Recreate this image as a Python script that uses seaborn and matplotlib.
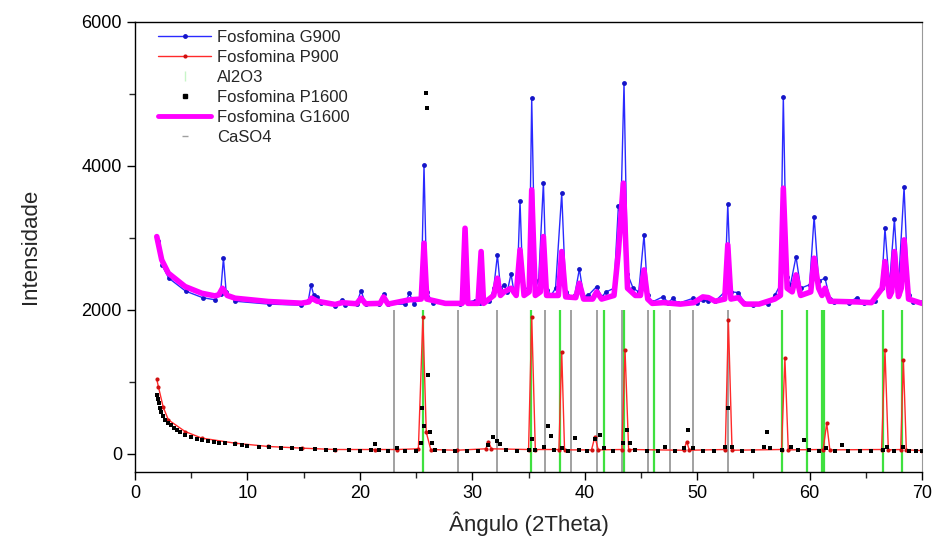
import matplotlib
matplotlib.use("Agg")
import matplotlib.pyplot as plt
from matplotlib.lines import Line2D
from matplotlib.ticker import MultipleLocator
import seaborn as sns
import pandas as pd

# readings (2theta, intensity)
g900_x = [2.0, 2.4, 3.0, 4.5, 6.0, 7.1, 7.6, 7.86, 8.1, 8.9, 11.9, 14.8, 15.4, 15.65, 15.9, 16.2, 16.5,
          17.8, 18.4, 18.7, 19.7, 20.1, 20.5, 21.7, 22.1, 22.5, 24.0, 24.4, 24.8, 25.45, 25.7, 25.95, 26.5,
          27.6, 28.9, 30.2, 30.7, 31.5, 31.9, 32.23, 32.5, 32.82, 33.1, 33.44, 33.7, 34.0, 34.24, 34.5,
          35.05, 35.28, 35.6, 35.9, 36.32, 36.6, 37.0, 37.4, 37.95, 38.3, 38.8, 39.1, 39.52, 39.9, 40.3,
          41.06, 41.5, 41.9, 42.6, 42.99, 43.2, 43.49, 43.8, 44.3, 44.8, 45.27, 45.6, 46.0, 46.99, 47.4,
          47.83, 48.3, 49.66, 50.0, 50.5, 51.0, 51.6, 52.45, 52.72, 53.0, 53.66, 54.2, 55.0, 56.3, 56.92,
          57.4, 57.66, 57.95, 58.3, 58.79, 59.2, 60.0, 60.4, 60.8, 61.37, 61.8, 62.2, 63.5, 64.19, 64.8,
          65.8, 66.4, 66.7, 67.1, 67.54, 67.9, 68.4, 68.8, 69.2, 70.0]
g900_y = [2950, 2620, 2440, 2260, 2170, 2140, 2220, 2718, 2250, 2120, 2080, 2065, 2120, 2347, 2200, 2185, 2100,
          2060, 2140, 2070, 2080, 2268, 2080, 2080, 2222, 2075, 2080, 2231, 2080, 2200, 4014, 2250, 2090,
          2100, 2080, 2130, 2100, 2120, 2300, 2764, 2300, 2347, 2250, 2500, 2250, 2400, 3518, 2300,
          2300, 4940, 2300, 2420, 3768, 2280, 2200, 2300, 3620, 2250, 2180, 2200, 2569, 2180, 2200,
          2324, 2180, 2250, 2300, 3444, 3300, 5148, 2500, 2300, 2250, 3042, 2200, 2110, 2185, 2100,
          2160, 2090, 2162, 2100, 2140, 2120, 2120, 2250, 3468, 2250, 2240, 2100, 2070, 2080, 2208,
          2350, 4963, 2450, 2350, 2740, 2300, 2350, 3296, 2400, 2440, 2150, 2110, 2100, 2171, 2100,
          2120, 2300, 3134, 2330, 3259, 2330, 3704, 2200, 2110, 2110]

p900_x = [1.93, 2.07, 2.5, 2.96, 4.45, 5.93, 8.9, 11.86, 14.83, 17.8, 21.3, 23.3, 25.2, 25.6, 25.9, 26.3,
          28.6, 31.2, 31.43, 31.7, 35.0, 35.28, 35.6, 37.7, 37.95, 38.2, 40.6, 40.9, 41.2, 43.3, 43.58,
          43.9, 48.8, 49.07, 49.3, 52.5, 52.77, 53.1, 57.5, 57.8, 58.1, 61.2, 61.52, 61.8, 66.4, 66.7,
          67.0, 68.1, 68.34, 68.6, 70.0]
p900_y = [1037, 935, 650, 472, 310, 218, 148, 102, 79, 60, 60, 60, 70, 1900, 300, 60,
          50, 70, 171, 70, 60, 1907, 60, 60, 1421, 55, 55, 240, 55, 60, 1444,
          60, 50, 171, 50, 60, 1861, 50, 60, 1330, 55, 60, 426, 55, 60, 1444,
          55, 60, 1305, 55, 45]

p1600_x = [1.93, 2.0, 2.1, 2.22, 2.35, 2.5, 2.7, 2.96, 3.2, 3.5, 3.75, 4.0, 4.45, 5.0, 5.5, 5.93, 6.5,
           7.0, 7.5, 8.0, 8.9, 9.5, 10.0, 11.0, 11.9, 13.0, 14.0, 14.8, 16.0, 17.0, 17.8, 19.0, 20.0,
           21.0, 21.35, 21.7, 22.5, 23.3, 24.0, 25.0, 25.4, 25.56, 25.7, 25.9, 25.95, 26.03, 26.2, 26.4,
           26.7, 27.5, 28.5, 29.5, 30.5, 31.4, 31.87, 32.2, 32.5, 33.0, 34.0, 35.0, 35.3, 35.6, 36.4,
           36.76, 37.0, 37.3, 38.0, 38.5, 39.14, 39.5, 40.2, 40.9, 41.36, 41.7, 42.5, 43.4, 43.73, 44.0,
           44.5, 45.5, 46.5, 47.1, 48.0, 48.8, 49.2, 49.6, 50.5, 51.5, 52.5, 52.77, 53.1, 54.0, 55.0,
           55.9, 56.2, 56.5, 57.5, 58.3, 59.0, 59.5, 59.9, 60.8, 61.5, 62.3, 62.85, 63.4, 64.5, 65.5,
           66.5, 66.9, 67.5, 68.3, 68.8, 69.5, 70.0]
p1600_y = [819, 760, 700, 634, 580, 520, 470, 426, 395, 360, 330, 300, 264, 235, 210, 190, 178,
           165, 155, 145, 130, 122, 115, 100, 90, 82, 75, 70, 62, 56, 52, 48, 45,
           48, 139, 50, 42, 75, 42, 45, 150, 634, 380, 5009, 4810, 1097, 300, 150,
           60, 45, 40, 40, 42, 120, 240, 180, 139, 50, 42, 60, 200, 60, 100,
           380, 250, 60, 80, 45, 218, 60, 42, 200, 264, 80, 45, 150, 333, 150,
           50, 45, 45, 100, 42, 80, 333, 80, 42, 42, 100, 634, 100, 42, 42,
           100, 310, 80, 60, 100, 60, 194, 60, 42, 80, 42, 125, 42, 40, 40,
           60, 100, 45, 100, 42, 40, 40]

g1600_x = [1.93, 2.37, 2.96, 4.45, 5.93, 7.1, 7.45, 7.77, 8.2, 8.9, 11.86, 14.8, 15.45, 15.7, 16.2, 17.8,
           18.4, 19.7, 20.1, 20.5, 21.8, 22.1, 22.5, 24.4, 25.45, 25.7, 25.95, 27.6, 29.1, 29.35, 29.6,
           30.5, 30.78, 31.0, 31.9, 32.23, 32.5, 32.82, 33.44, 33.9, 34.24, 34.6, 35.05, 35.28, 35.6,
           36.05, 36.32, 36.6, 37.65, 37.95, 38.3, 39.2, 39.52, 39.9, 40.7, 41.06, 41.5, 42.6, 42.99,
           43.43, 43.8, 44.5, 44.95, 45.27, 45.6, 46.0, 47.0, 48.5, 49.7, 50.5, 51.0, 51.6, 52.45,
           52.72, 53.0, 53.66, 54.2, 55.5, 56.9, 57.4, 57.66, 58.0, 58.45, 58.79, 59.2, 60.1, 60.4,
           60.8, 61.1, 61.37, 61.8, 64.2, 65.5, 66.45, 66.7, 67.1, 67.3, 67.54, 67.9, 68.15, 68.4,
           68.8, 70.0]
g1600_y = [3018, 2694, 2510, 2324, 2231, 2194, 2210, 2300, 2200, 2162, 2116, 2093, 2110, 2162, 2120, 2075,
           2100, 2085, 2162, 2085, 2090, 2180, 2080, 2140, 2150, 2926, 2150, 2090, 2090, 3134, 2090,
           2090, 2810, 2090, 2200, 2440, 2200, 2250, 2300, 2200, 2833, 2200, 2250, 3667, 2200,
           2250, 3018, 2200, 2200, 2810, 2180, 2170, 2370, 2150, 2150, 2250, 2150, 2200, 2810,
           3760, 2300, 2200, 2200, 2555, 2150, 2090, 2100, 2080, 2100, 2180, 2170, 2120, 2150,
           2903, 2150, 2170, 2080, 2080, 2150, 2200, 3690, 2300, 2250, 2486, 2200, 2250, 2718,
           2300, 2200, 2300, 2120, 2110, 2100, 2300, 2671, 2185, 2250, 2810, 2185, 2300, 2972,
           2150, 2090]

al2o3_pos = [25.6, 35.2, 37.8, 41.7, 43.45, 46.2, 57.5, 59.8, 61.1, 61.3, 66.55, 68.25]
caso4_pos = [23.0, 28.7, 32.2, 36.5, 38.8, 41.1, 43.35, 45.6, 47.6, 49.6, 52.7]
stick_top = 2000

sns.set_style("ticks")
plt.rcParams['font.family'] = ['Liberation Sans', 'DejaVu Sans']

fig = plt.figure(figsize=(9.38, 5.48), dpi=100)
ax = fig.add_axes([0.144, 0.139, 0.839, 0.821])
ymin = -250

g900 = pd.DataFrame({"x": g900_x, "y": g900_y})
p900 = pd.DataFrame({"x": p900_x, "y": p900_y})
p1600 = pd.DataFrame({"x": p1600_x, "y": p1600_y})
g1600 = pd.DataFrame({"x": g1600_x, "y": g1600_y})

sns.lineplot(data=g900, x="x", y="y", ax=ax, color="#2a2aff", lw=1.0, marker="o",
             markersize=3.5, markeredgewidth=0, markerfacecolor="#1515c8", zorder=2)
sns.lineplot(data=p900, x="x", y="y", ax=ax, color="#ff2a2a", lw=1.0, marker="o",
             markersize=3, markeredgewidth=0, markerfacecolor="#d01010", zorder=2)
ax.vlines(al2o3_pos, ymin, stick_top, color="#3fe03f", lw=1.6, zorder=1.5)
sns.scatterplot(data=p1600, x="x", y="y", ax=ax, color="black", marker="s", s=7,
                linewidth=0, zorder=3)
sns.lineplot(data=g1600, x="x", y="y", ax=ax, color="#ff00ff", lw=4, zorder=3,
             solid_joinstyle="round")
ax.vlines(caso4_pos, ymin, stick_top, color="#9a9a9a", lw=1.3, zorder=1.4)

ax.set_xlim(0, 70)
ax.set_ylim(ymin, 6000)
ax.xaxis.set_major_locator(MultipleLocator(10))
ax.xaxis.set_minor_locator(MultipleLocator(5))
ax.yaxis.set_major_locator(MultipleLocator(2000))
ax.yaxis.set_minor_locator(MultipleLocator(1000))
ax.tick_params(which="major", direction="out", length=6, width=1, labelsize=13, colors="black")
ax.tick_params(which="minor", direction="out", length=4, width=1)
for side in ["left", "bottom", "top"]:
    ax.spines[side].set_color("black")
    ax.spines[side].set_linewidth(1)
ax.spines["right"].set_color("#999999")

ax.set_xlabel("Ângulo (2Theta)", fontsize=16, labelpad=7)
ax.set_ylabel("Intensidade", fontsize=16, labelpad=29)

handles = [
    Line2D([], [], color="#2a2aff", lw=1, marker="o", markersize=3.5, markerfacecolor="#1515c8",
           markeredgewidth=0),
    Line2D([], [], color="#ff2a2a", lw=1, marker="o", markersize=3, markerfacecolor="#d01010",
           markeredgewidth=0),
    Line2D([], [], color="#c8f5c8", lw=0, marker="|", markersize=7),
    Line2D([], [], color="black", lw=0, marker="s", markersize=3),
    Line2D([], [], color="#ff00ff", lw=3.5),
    Line2D([], [], color="#a0a0a0", lw=0, marker="_", markersize=4),
]
labels = ["Fosfomina G900", "Fosfomina P900", "Al2O3", "Fosfomina P1600",
          "Fosfomina G1600", "CaSO4"]
ax.legend(handles, labels, loc="upper left", bbox_to_anchor=(0.01, 1.015), frameon=False,
          fontsize=12, handlelength=3.2, handletextpad=0.35, labelspacing=0.3)

fig.savefig("out.png", dpi=100)
